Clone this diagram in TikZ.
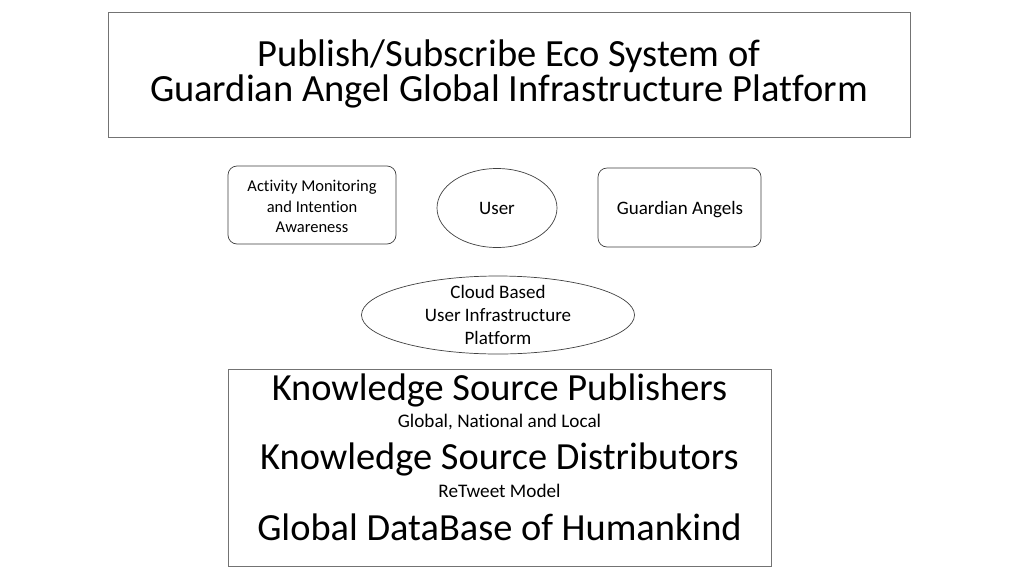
\documentclass[tikz,border=0pt]{standalone}
\usepackage{fontspec}
\setmainfont{Carlito}[Ligatures={NoCommon}]
\usetikzlibrary{shapes.geometric}
\begin{document}
\begin{tikzpicture}[x=1pt,y=-1pt,
  bigbox/.style={draw=gray!90!black, line width=0.8pt},
  smallbox/.style={draw=black!75, line width=0.7pt, rounded corners=9pt},
  oval/.style={draw=black!75, line width=0.7pt, ellipse},
  lbl/.style={align=center, font=\fontsize{19}{23}\selectfont},
  bigtxt/.style={font=\fontsize{38.4}{38}\selectfont},
  subtxt/.style={font=\fontsize{19.2}{20}\selectfont},
  ]
\useasboundingbox (0,0) rectangle (1024,576);
\fill[white] (0,0) rectangle (1024,576);
% title
\draw[bigbox] (108,12) rectangle (910,137);
\node[align=center, font=\fontsize{38.5}{35}\selectfont] (title) at (509,73.5) {Publish/Subscribe Eco System of\\Guardian Angel Global Infrastructure Platform};
% row
\draw[smallbox] (228,166) rectangle (396,244);
\node[lbl, font=\fontsize{16.5}{20.5}\selectfont] (activity) at (312,206.5) {Activity Monitoring\\and Intention\\Awareness};
\node[oval, minimum width=120pt, minimum height=79pt, inner sep=0pt] (user) at (497,208) {};
\node[lbl] (usertxt) at (497,208) {User};
\draw[smallbox] (598,168) rectangle (761,247);
\node[lbl] (ga) at (680,210) {Guardian Angels};
% cloud
\node[oval, minimum width=273pt, minimum height=78pt, inner sep=0pt] (cloud) at (498,315) {};
\node[lbl] (cloudtxt) at (498,315) {Cloud Based\\User Infrastructure\\Platform};
% bottom
\draw[bigbox] (228,369) rectangle (771,566);
\node[bigtxt] (ksp) at (499.5,390) {Knowledge Source Publishers};
\node[subtxt] (gnl) at (499.5,422) {Global, National and Local};
\node[bigtxt] (ksd) at (499.5,459) {Knowledge Source Distributors};
\node[subtxt] (rtm) at (499.5,491) {ReTweet Model};
\node[bigtxt] (gdb) at (499.5,527) {Global DataBase of Humankind};
\end{tikzpicture}
\end{document}
